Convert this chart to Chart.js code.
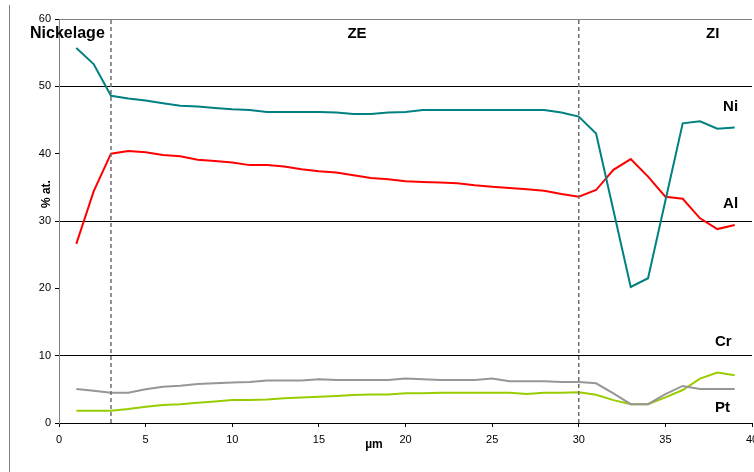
<!DOCTYPE html>
<html>
<head>
<meta charset="utf-8">
<script src="https://cdn.jsdelivr.net/npm/chart.js@4"></script>
<style>
  html, body { margin: 0; padding: 0; background: #fff; overflow: hidden; }
  #wrap { width: 754px; height: 472px; }
</style>
</head>
<body>
<div id="wrap"><canvas id="chart" width="754" height="472"></canvas></div>
<script>
// depth (µm) and atomic % per element
const depths = [1, 2, 3, 4, 5, 6, 7, 8, 9, 10, 11, 12, 13, 14, 15, 16, 17, 18, 19, 20,
  21, 22, 23, 24, 25, 26, 27, 28, 29, 30, 31, 32, 33, 34, 35, 36, 37, 38, 39];

const ni = [55.7, 53.3, 48.6, 48.2, 47.9, 47.5, 47.1, 47.0, 46.8, 46.6, 46.5, 46.2, 46.2, 46.2,
  46.2, 46.1, 45.9, 45.9, 46.1, 46.2, 46.5, 46.5, 46.5, 46.5, 46.5, 46.5, 46.5, 46.5, 46.1,
  45.5, 43.0, 31.6, 20.2, 21.5, 33.0, 44.5, 44.8, 43.7, 43.9];

const al = [26.6, 34.4, 40.0, 40.4, 40.2, 39.8, 39.6, 39.1, 38.9, 38.7, 38.3, 38.3, 38.1, 37.7,
  37.4, 37.2, 36.8, 36.4, 36.2, 35.9, 35.8, 35.7, 35.6, 35.3, 35.1, 34.9, 34.7, 34.5, 34.0,
  33.6, 34.6, 37.6, 39.2, 36.6, 33.6, 33.3, 30.4, 28.8, 29.4];

const cr = [5.05, 4.8, 4.5, 4.5, 5.0, 5.4, 5.55, 5.8, 5.9, 6.0, 6.1, 6.3, 6.3, 6.3, 6.5, 6.4,
  6.4, 6.4, 6.4, 6.6, 6.5, 6.4, 6.4, 6.4, 6.6, 6.2, 6.2, 6.2, 6.1, 6.1, 5.9, 4.4, 2.8, 2.8,
  4.3, 5.5, 5.05, 5.05, 5.05];

const pt = [1.83, 1.83, 1.83, 2.08, 2.4, 2.67, 2.8, 3.0, 3.2, 3.4, 3.4, 3.5, 3.66, 3.8, 3.9,
  4.0, 4.15, 4.25, 4.25, 4.4, 4.4, 4.5, 4.5, 4.5, 4.5, 4.5, 4.3, 4.5, 4.5, 4.55, 4.2, 3.4,
  2.8, 2.8, 3.8, 4.9, 6.6, 7.5, 7.1];

// zone boundaries (µm)
const boundaries = [3, 30];

const FONT = "'Liberation Sans', Arial, sans-serif";

const toPoints = (vals) => vals.map((v, i) => ({ x: depths[i], y: v }));

function series(data, color) {
  return {
    data: toPoints(data),
    borderColor: color,
    borderWidth: 2,
    pointRadius: 0,
    tension: 0,
    showLine: true,
    fill: false,
  };
}

const boundarySets = boundaries.map((b) => ({
  data: [{ x: b, y: 0 }, { x: b, y: 60 }],
  borderColor: "#6e6e6e",
  borderWidth: 1.5,
  borderDash: [4, 3],
  pointRadius: 0,
  showLine: true,
  fill: false,
}));

// text labels + the frame edge on the left
const notes = {
  id: "notes",
  afterDraw(chart) {
    const { ctx } = chart;
    const { x, y } = chart.scales;
    const at = (xv, yv) => [x.getPixelForValue(xv), y.getPixelForValue(yv)];
    ctx.save();

    ctx.strokeStyle = "#808080";
    ctx.lineWidth = 1;
    ctx.beginPath();
    ctx.moveTo(9.5, 5);
    ctx.lineTo(9.5, chart.height);
    ctx.stroke();

    ctx.fillStyle = "#000";
    ctx.textBaseline = "alphabetic";

    const put = (text, xv, yv, font, align) => {
      const [px, py] = at(xv, yv);
      ctx.font = font;
      ctx.textAlign = align || "left";
      ctx.fillText(text, px, py);
    };

    put("Nickelage", -1.67, 57.25, "bold 16px " + FONT);
    put("ZE", 17.2, 57.2, "bold 15px " + FONT, "center");
    put("ZI", 37.35, 57.2, "bold 15px " + FONT);
    put("Ni", 38.33, 46.34, "bold 15px " + FONT);
    put("Al", 38.33, 31.93, "bold 15px " + FONT);
    put("Cr", 37.86, 11.44, "bold 15px " + FONT);
    put("Pt", 37.86, 1.68, "bold 15px " + FONT);

    // axis titles
    ctx.textBaseline = "middle";
    put("µm", 18.18, -3.27, "bold 12px " + FONT, "center");
    const [tx, ty] = at(-0.69, 34.0);
    ctx.translate(tx, ty);
    ctx.rotate(-Math.PI / 2);
    ctx.font = "bold 12px " + FONT;
    ctx.textAlign = "center";
    ctx.fillText("% at.", 0, 0);

    ctx.restore();
  },
};

new Chart(document.getElementById("chart"), {
  type: "scatter",
  data: {
    datasets: [
      ...boundarySets,
      series(ni, "#008080"),
      series(al, "#ff0000"),
      series(cr, "#969696"),
      series(pt, "#99cc00"),
    ],
  },
  options: {
    responsive: false,
    animation: false,
    layout: { padding: { top: 19, right: 2, left: 0, bottom: 0 } },
    plugins: {
      legend: { display: false },
      tooltip: { enabled: false },
    },
    scales: {
      x: {
        type: "linear",
        min: 0,
        max: 40,
        afterFit: (s) => {
          s.height = 49;
          s.paddingLeft = 0;
          s.paddingRight = 0;
        },
        ticks: {
          stepSize: 5,
          autoSkip: false,
          maxRotation: 0,
          padding: 6,
          color: "#000",
          font: { family: FONT, size: 11 },
        },
        grid: { drawOnChartArea: false, tickLength: 4, tickColor: "#000" },
        border: { color: "#000", width: 1 },
      },
      y: {
        min: 0,
        max: 60,
        afterFit: (s) => {
          s.width = 59;
          s.paddingTop = 0;
          s.paddingBottom = 0;
        },
        ticks: {
          stepSize: 10,
          padding: 4,
          color: "#000",
          font: { family: FONT, size: 11 },
        },
        grid: {
          color: (c) => {
            const v = c.tick.value;
            if (v === 60) return "#808080";
            return [10, 30, 50].includes(v) ? "#000" : "rgba(0,0,0,0)";
          },
          tickColor: "#000",
          tickLength: 4,
          lineWidth: 1,
        },
        border: { color: "#808080", width: 1 },
      },
    },
  },
  plugins: [notes],
});
</script>
</body>
</html>
